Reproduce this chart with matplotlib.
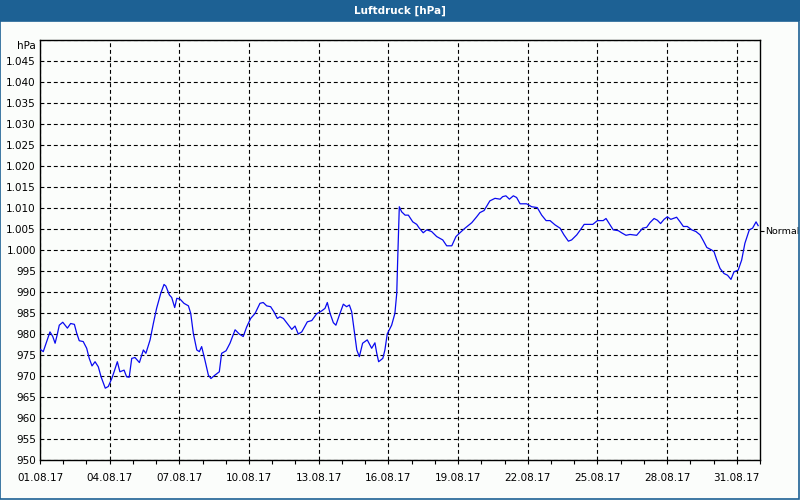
import numpy as np
import pandas as pd
import matplotlib
matplotlib.use("Agg")
import matplotlib.pyplot as plt
import matplotlib.dates as mdates
from matplotlib.ticker import FuncFormatter, MultipleLocator
from matplotlib.patches import Rectangle

# ---- colours ----
BAR_BLUE = "#1D6194"
BG = "#FBFDFB"
LINE = "#0A0AF0"

# ---- data: days since 01.08.2017 00:00 and pressure in hPa ----
days = [0.00, 0.14, 0.29, 0.43, 0.55, 0.65, 0.74, 0.83, 0.98, 1.18, 1.32, 1.48,
        1.58, 1.69, 1.86, 2.01, 2.12, 2.24, 2.37, 2.51, 2.63, 2.81, 2.94, 3.09,
        3.19, 3.33, 3.44, 3.62, 3.73, 3.84, 3.95, 4.09, 4.28, 4.45, 4.56, 4.74,
        4.88, 5.02, 5.20, 5.34, 5.42, 5.57, 5.67, 5.80, 5.89, 6.03, 6.20, 6.39,
        6.49, 6.60, 6.75, 6.86, 6.96, 7.10, 7.25, 7.36, 7.53, 7.72, 7.82, 8.01,
        8.18, 8.40, 8.58, 8.75, 8.90, 9.07, 9.26, 9.47, 9.61, 9.76, 9.93, 10.07,
        10.22, 10.33,
        10.48, 10.62, 10.84, 10.98, 11.12, 11.27, 11.51, 11.70, 11.91, 12.13,
        12.27, 12.37, 12.49, 12.63, 12.74, 12.89, 13.06, 13.20, 13.32, 13.42,
        13.56, 13.64, 13.75, 13.89, 14.09, 14.28, 14.42, 14.50, 14.58, 14.76,
        14.85, 14.95, 15.14, 15.28, 15.36, 15.40, 15.47, 15.57, 15.72, 15.86,
        16.05, 16.22, 16.33, 16.50, 16.65, 16.86, 17.08, 17.34, 17.51, 17.73,
        17.91, 18.08, 18.30, 18.59, 18.80, 18.94, 19.12, 19.37, 19.59, 19.81,
        19.92, 20.06, 20.21, 20.38, 20.52, 20.67,
        20.95, 21.17, 21.41, 21.60, 21.79, 21.96, 22.17, 22.39, 22.56, 22.75,
        22.89, 23.11, 23.28, 23.43, 23.61, 23.80, 24.00, 24.25, 24.37, 24.51,
        24.68, 24.90, 25.04, 25.23, 25.40, 25.69, 25.95, 26.12, 26.26, 26.44,
        26.58, 26.72, 26.87, 27.01, 27.16, 27.41, 27.56, 27.70, 27.87, 28.06,
        28.24, 28.42, 28.56, 28.71, 28.92, 29.02, 29.14, 29.28, 29.45, 29.60,
        29.75, 29.88, 30.06, 30.21, 30.35, 30.54, 30.68, 30.83, 30.92]

hpa = [976.4, 975.8, 978.2, 980.5, 979.4, 977.8, 979.8, 982.1, 982.8, 981.4, 982.5, 982.3,
       980.2, 978.4, 978.2, 976.6, 974.2, 972.4, 973.4, 972.2, 969.8, 967.1, 967.5, 969.4,
       971.0, 973.4, 971.0, 971.4, 969.8, 969.7, 974.2, 974.4, 973.2, 976.2, 975.4, 978.6,
       982.5, 986.1, 989.7, 991.8, 991.4, 989.3, 988.7, 986.3, 988.5, 988.3, 987.3, 986.7,
       984.9, 980.2, 976.2, 975.8, 977.0, 973.8, 970.2, 969.4, 970.2, 971.0, 975.4, 976.0,
       977.8, 981.0, 980.0, 979.4, 981.7, 983.7, 984.9, 987.3, 987.5, 986.7, 986.5, 985.3,
       983.7, 984.1,
       983.7, 982.7, 981.1, 981.9, 980.0, 980.5, 982.9, 983.2, 984.8, 985.5,
       986.1, 987.5, 984.9, 982.7, 982.1, 984.5, 987.1, 986.5, 986.9, 985.3,
       979.4, 976.2, 974.6, 977.8, 978.6, 976.6, 977.9, 975.4, 973.4, 974.2,
       976.2, 980.0, 982.1, 984.9, 989.7, 997.6, 1010.3, 1009.1, 1008.3, 1008.3,
       1006.7, 1006.1, 1005.2, 1004.1, 1004.8, 1004.4, 1003.2, 1002.4, 1001.0, 1001.0,
       1003.2, 1004.1, 1005.2, 1006.5, 1007.9, 1008.9, 1009.4, 1011.7, 1012.3, 1012.1,
       1012.7, 1012.9, 1012.1, 1012.9, 1012.5, 1011.0,
       1011.0, 1010.3, 1010.1, 1008.3, 1007.0, 1007.0, 1006.0, 1005.2, 1003.6, 1002.1,
       1002.4, 1003.6, 1004.9, 1006.1, 1006.1, 1006.1, 1007.0, 1007.0, 1007.5, 1006.3,
       1004.8, 1004.6, 1004.1, 1003.5, 1003.7, 1003.5, 1005.2, 1005.4, 1006.5, 1007.5,
       1007.1, 1006.3, 1007.3, 1007.9, 1007.3, 1007.8, 1006.7, 1005.6, 1005.6, 1004.8,
       1004.4, 1003.6, 1002.2, 1000.6, 1000.0, 999.6, 997.6, 995.6, 994.4, 994.0,
       993.0, 994.8, 995.2, 997.6, 1001.6, 1004.8, 1005.2, 1006.7, 1005.8]

normal_hpa = 1004.6
tick_dates = ["2017-08-01", "2017-08-04", "2017-08-07", "2017-08-10", "2017-08-13",
              "2017-08-16", "2017-08-19", "2017-08-22", "2017-08-25", "2017-08-28",
              "2017-08-31"]
start, end = "2017-08-01", "2017-09-01"

times = pd.Timestamp(start) + pd.to_timedelta(days, unit="D")

plt.rcParams.update({
    "font.family": "DejaVu Sans",
    "font.size": 7.5,
    "text.color": "black",
})

fig = plt.figure(figsize=(8, 5), dpi=100, facecolor=BG)

# window frame: blue title bar + thin blue border
fig.patches.append(Rectangle((0, 1 - 21 / 500), 1, 21 / 500, transform=fig.transFigure,
                             facecolor=BAR_BLUE, edgecolor="none", zorder=0))
fig.patches.append(Rectangle((0.4 / 800, 1.5 / 500), 1 - 1.6 / 800, 1 - 22 / 500,
                             transform=fig.transFigure, facecolor="none",
                             edgecolor=BAR_BLUE, linewidth=1.2, zorder=0))
fig.text(0.5, 1 - 10.5 / 500, "Luftdruck [hPa]", ha="center", va="center",
         color="white", fontsize=7.5, fontweight="bold")

ax = fig.add_axes([40 / 800, 40 / 500, 720 / 800, 420 / 500])
ax.set_facecolor(BG)
ax.plot(times, hpa, color=LINE, lw=0.9, zorder=3)

ax.set_xlim(pd.Timestamp(start), pd.Timestamp(end))
ax.set_ylim(950, 1050)

ax.set_xticks(pd.to_datetime(tick_dates))
ax.xaxis.set_major_formatter(mdates.DateFormatter("%d.%m.%y"))
ax.xaxis.set_minor_locator(mdates.DayLocator())
ax.tick_params(axis="x", which="both", direction="out", length=3, width=0.8, pad=6.5)

ax.yaxis.set_major_locator(MultipleLocator(5))
ax.yaxis.set_major_formatter(FuncFormatter(
    lambda v, _: "" if v >= 1050 else f"{v:,.0f}".replace(",", ".")))
ax.tick_params(axis="y", length=0, pad=3)

ax.grid(True, which="major", color="black", lw=0.8, ls=(0, (3.5, 2.5)))
for sp in ax.spines.values():
    sp.set_linewidth(1.0)
    sp.set_color("black")

ax.text(-4 / 720, 1 - 6 / 420, "hPa", transform=ax.transAxes, ha="right", va="center")

# "Normal" reference tick on the right edge
sec = ax.secondary_yaxis("right")
sec.set_yticks([normal_hpa])
sec.set_yticklabels(["Normal"], fontsize=6.8)
sec.tick_params(length=3, width=0.8, pad=1)
sec.spines["right"].set_visible(False)

fig.savefig("out.png", dpi=100, facecolor=BG)
